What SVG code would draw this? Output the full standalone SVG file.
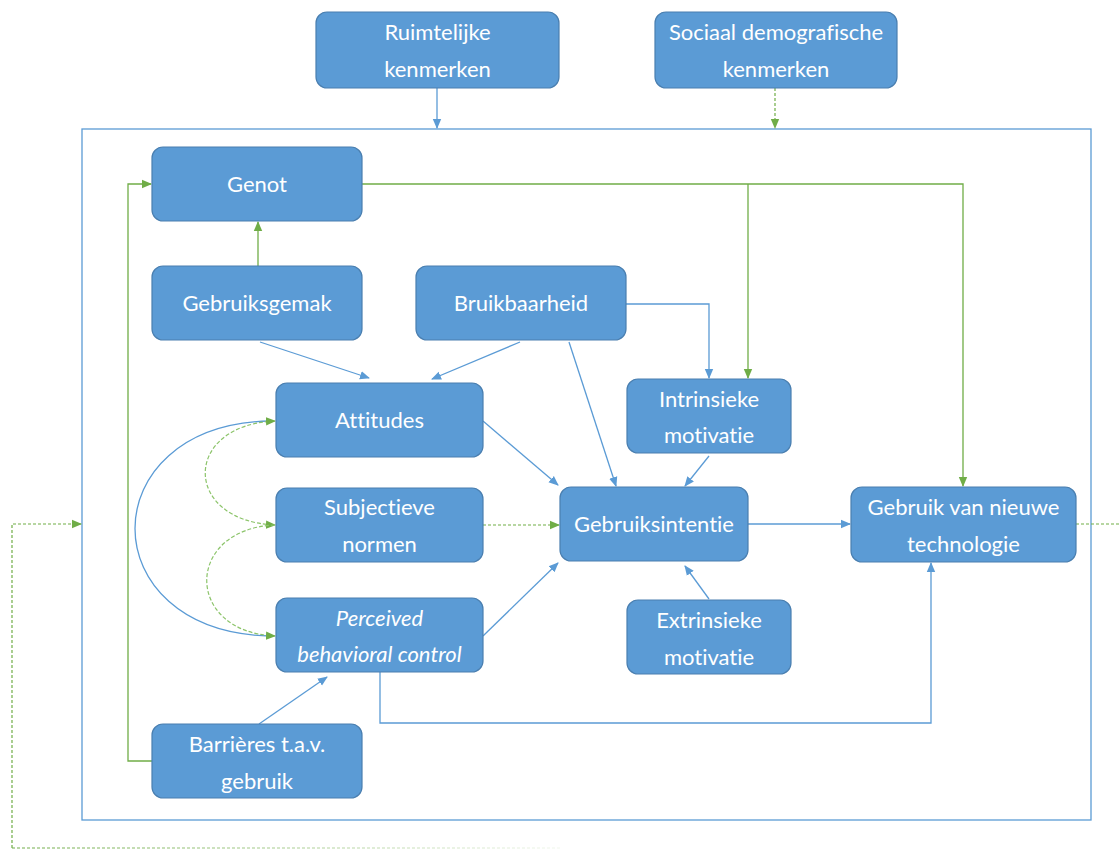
<svg xmlns="http://www.w3.org/2000/svg" width="1119" height="850" viewBox="0 0 1119 850">
<defs>
<style>
.box{fill:#5B9BD5;stroke:#4A7FB0;stroke-width:1.2}
.t{font-family:Lato,"Open Sans","Liberation Sans",sans-serif;font-size:22px;fill:#fff;text-anchor:middle;font-variant-ligatures:none;font-feature-settings:"liga" 0,"clig" 0,"dlig" 0}
.it{font-style:italic}
.b{fill:none;stroke:#5B9BD5;stroke-width:1.3}
.g{fill:none;stroke:#70AD47;stroke-width:1.3}
.gd{fill:none;stroke:#70AD47;stroke-width:1.2;stroke-dasharray:3 2}
.gc{fill:none;stroke:#8CC46A;stroke-width:1.2;stroke-dasharray:4 2}
</style>
<marker id="ab" markerWidth="10" markerHeight="10" refX="9" refY="5" orient="auto" markerUnits="userSpaceOnUse"><path d="M0,0.8 L10,5 L0,9.2 Z" fill="#5B9BD5"/></marker>
<marker id="ag" markerWidth="10" markerHeight="10" refX="9" refY="5" orient="auto" markerUnits="userSpaceOnUse"><path d="M0,0.8 L10,5 L0,9.2 Z" fill="#70AD47"/></marker>
<marker id="ags" markerWidth="10" markerHeight="10" refX="1" refY="5" orient="auto" markerUnits="userSpaceOnUse"><path d="M10,0.8 L0,5 L10,9.2 Z" fill="#70AD47"/></marker>
<linearGradient id="fade" gradientUnits="userSpaceOnUse" x1="12" y1="0" x2="560" y2="0">
<stop offset="0" stop-color="#70AD47" stop-opacity="1"/>
<stop offset="0.5" stop-color="#70AD47" stop-opacity="0.6"/>
<stop offset="1" stop-color="#70AD47" stop-opacity="0.1"/>
</linearGradient>
</defs>
<rect x="0" y="0" width="1119" height="850" fill="#fff"/>
<rect id="frame" x="82" y="129" width="1009" height="691" fill="none" stroke="#5B9BD5" stroke-width="1.3"/>

<g id="connectors">
<path class="b" d="M437,88 V128" marker-end="url(#ab)"/>
<path class="gd" d="M775,88 V128" marker-end="url(#ag)"/>
<path class="g" d="M362,184 H963 V486" marker-end="url(#ag)"/>
<path class="g" d="M748,184 V378" marker-end="url(#ag)"/>
<path class="g" d="M258,266 V222" marker-end="url(#ag)"/>
<path class="g" d="M152,761 H128 V184 H151" marker-end="url(#ag)"/>
<path class="b" d="M260,342 L369,378" marker-end="url(#ab)"/>
<path class="b" d="M520,342 L432,379" marker-end="url(#ab)"/>
<path class="b" d="M626,304 H709 V378" marker-end="url(#ab)"/>
<path class="b" d="M569,342 L616,486" marker-end="url(#ab)"/>
<path class="b" d="M483,421 L558,485" marker-end="url(#ab)"/>
<path class="gd" d="M483,525 H559" marker-end="url(#ag)"/>
<path class="b" d="M483,636 L558,563" marker-end="url(#ab)"/>
<path class="b" d="M709,456 L685,486" marker-end="url(#ab)"/>
<path class="b" d="M709,599 L685,566" marker-end="url(#ab)"/>
<path class="b" d="M748,524 H850" marker-end="url(#ab)"/>
<path class="b" d="M380,672 V723 H931 V563" marker-end="url(#ab)"/>
<path class="b" d="M259,724 L327,677" marker-end="url(#ab)"/>
<path class="b" d="M270,421 C90,425 90,632 270,636"/>
<path class="gc" d="M275,421 C182,425 182,521 275,525" marker-start="url(#ags)" marker-end="url(#ag)"/>
<path class="gc" d="M275,525 C184,529 184,632 275,636" marker-end="url(#ag)"/>
<path class="gd" d="M1076,524 H1119"/>
<path fill="none" stroke="url(#fade)" stroke-width="1.2" stroke-dasharray="3 2" d="M560,848 H12"/>
<path class="gd" d="M12,848 V524 H81" marker-end="url(#ag)"/>
</g>

<g id="ruimtelijke"><rect class="box" x="316" y="12" width="243" height="76" rx="11"/><text class="t" x="437.5" y="40">Ruimtelijke</text><text class="t" x="437.5" y="77">kenmerken</text></g>
<g id="sociaal"><rect class="box" x="655" y="12" width="242" height="76" rx="11"/><text class="t" x="776" y="40">Sociaal demografische</text><text class="t" x="776" y="77">kenmerken</text></g>
<g id="genot"><rect class="box" x="152" y="147" width="210" height="74" rx="11"/><text class="t" x="257" y="192">Genot</text></g>
<g id="gebruiksgemak"><rect class="box" x="152" y="266" width="210" height="74" rx="11"/><text class="t" x="257" y="311">Gebruiksgemak</text></g>
<g id="bruikbaarheid"><rect class="box" x="416" y="266" width="210" height="74" rx="11"/><text class="t" x="521" y="311">Bruikbaarheid</text></g>
<g id="attitudes"><rect class="box" x="276" y="383" width="207" height="74" rx="11"/><text class="t" x="379.5" y="428">Attitudes</text></g>
<g id="intrinsieke"><rect class="box" x="627" y="379" width="164" height="74" rx="11"/><text class="t" x="709" y="407">Intrinsieke</text><text class="t" x="709" y="443">motivatie</text></g>
<g id="subjectieve"><rect class="box" x="276" y="488" width="207" height="74" rx="11"/><text class="t" x="379.5" y="515">Subjectieve</text><text class="t" x="379.5" y="552">normen</text></g>
<g id="gebruiksintentie"><rect class="box" x="560" y="487" width="188" height="74" rx="11"/><text class="t" x="654" y="532">Gebruiksintentie</text></g>
<g id="gebruik"><rect class="box" x="851" y="487" width="225" height="75" rx="11"/><text class="t" x="963.5" y="515">Gebruik van nieuwe</text><text class="t" x="963.5" y="552">technologie</text></g>
<g id="pbc"><rect class="box" x="276" y="598" width="207" height="74" rx="11"/><text class="t it" x="379.5" y="626">Perceived</text><text class="t it" x="379.5" y="662">behavioral control</text></g>
<g id="extrinsieke"><rect class="box" x="627" y="600" width="164" height="74" rx="11"/><text class="t" x="709" y="628">Extrinsieke</text><text class="t" x="709" y="665">motivatie</text></g>
<g id="barrieres"><rect class="box" x="152" y="724" width="210" height="74" rx="11"/><text class="t" x="257" y="752">Barrières t.a.v.</text><text class="t" x="257" y="789">gebruik</text></g>
</svg>
